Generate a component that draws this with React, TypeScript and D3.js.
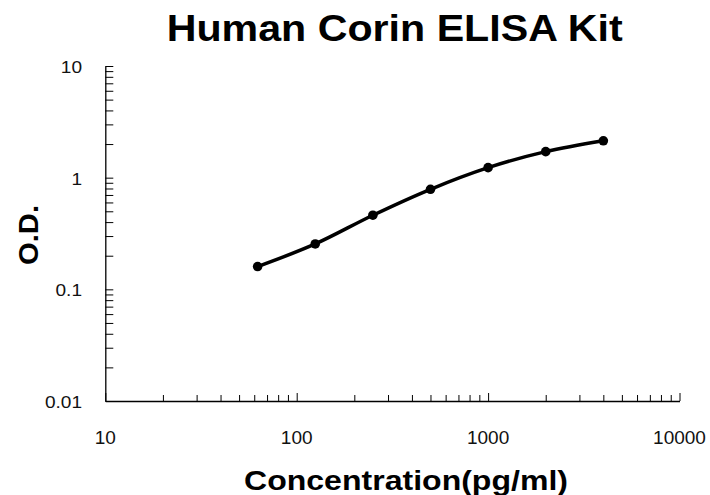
import { useEffect, useRef } from "react";
import * as d3 from "d3";

// standard curve points (pg/ml vs O.D.)
const concentrations = [62.5, 125, 250, 500, 1000, 2000, 4000];
const odValues = [0.16, 0.255, 0.461, 0.787, 1.229, 1.71, 2.14];

const xTickLabels = [10, 100, 1000, 10000];
const yTickLabels = [0.01, 0.1, 1, 10];

const chartTitle = "Human Corin ELISA Kit";
const xTitle = "Concentration(pg/ml)";
const yTitle = "O.D.";

export default function App() {
    const ref = useRef<SVGSVGElement>(null);

    useEffect(() => {
        const svg = d3.select(ref.current);
        svg.selectAll("*").remove();

        const width = 710;
        const height = 495;
        const margin = { top: 66, right: 30.5, bottom: 94, left: 105.3 };
        const font = "'Liberation Sans', Arial, sans-serif";

        const xScale = d3.scaleLog()
            .domain([10, 10000])
            .range([margin.left, width - margin.right]);

        const yScale = d3.scaleLog()
            .domain([0.01, 10])
            .range([height - margin.bottom, margin.top]);

        // minor + major ticks for each decade
        const decadeTicks = (lo: number, hi: number) => {
            const out: number[] = [];
            for (let d = lo; d < hi; d *= 10) {
                for (let k = 1; k < 10; k++) out.push(d * k);
            }
            out.push(hi);
            return out;
        };

        // the original font is a bit wider than Liberation, so stretch text a little
        const stretch = (sel: any, factor: number) => {
            sel.each(function (this: SVGTextElement) {
                const w = this.getComputedTextLength();
                d3.select(this).attr("textLength", w * factor).attr("lengthAdjust", "spacingAndGlyphs");
            });
        };

        // x axis
        const xAxis = svg.append("g")
            .attr("transform", `translate(0,${height - margin.bottom})`)
            .call(d3.axisBottom(xScale).tickValues(decadeTicks(10, 10000)).tickSize(0).tickFormat(() => ""));
        xAxis.select(".domain").attr("stroke", "#000").attr("stroke-width", 1.3);
        xAxis.selectAll(".tick line")
            .attr("y2", (d: any) => (xTickLabels.includes(d) ? -8 : -6))
            .attr("stroke", "#000");

        svg.append("g")
            .selectAll("text")
            .data(xTickLabels)
            .join("text")
            .attr("x", d => xScale(d))
            .attr("y", 444)
            .attr("text-anchor", "middle")
            .style("font-family", font)
            .style("font-size", "19px")
            .attr("fill", "#111")
            .text(d => d);

        // y axis
        const yAxis = svg.append("g")
            .attr("transform", `translate(${margin.left},0)`)
            .call(d3.axisLeft(yScale).tickValues(decadeTicks(0.01, 10)).tickSize(0).tickFormat(() => ""));
        yAxis.select(".domain").attr("stroke", "#000").attr("stroke-width", 1.3);
        yAxis.selectAll(".tick line").attr("x2", 8).attr("stroke", "#000");

        const yLabels = svg.append("g")
            .selectAll("text")
            .data(yTickLabels)
            .join("text")
            .attr("x", 82)
            .attr("y", d => yScale(d) + 7)
            .attr("text-anchor", "end")
            .style("font-family", font)
            .style("font-size", "17px")
            .attr("fill", "#111")
            .text(d => String(d));
        stretch(yLabels, 1.12);

        // titles
        svg.append("text")
            .attr("x", 394.7)
            .attr("y", 41)
            .attr("text-anchor", "middle")
            .attr("textLength", 456)
            .attr("lengthAdjust", "spacingAndGlyphs")
            .style("font-family", font)
            .style("font-size", "36px")
            .style("font-weight", "bold")
            .text(chartTitle);

        svg.append("text")
            .attr("x", 406)
            .attr("y", 490)
            .attr("text-anchor", "middle")
            .attr("textLength", 324)
            .attr("lengthAdjust", "spacingAndGlyphs")
            .style("font-family", font)
            .style("font-size", "27px")
            .style("font-weight", "bold")
            .text(xTitle);

        svg.append("text")
            .attr("transform", "rotate(-90)")
            .attr("x", -235)
            .attr("y", 38)
            .attr("text-anchor", "middle")
            .attr("textLength", 60)
            .attr("lengthAdjust", "spacingAndGlyphs")
            .style("font-family", font)
            .style("font-size", "27px")
            .style("font-weight", "bold")
            .text(yTitle);

        // curve
        const pts = concentrations.map((c, i) => [c, odValues[i]] as [number, number]);
        const line = d3.line<[number, number]>()
            .x(d => xScale(d[0]))
            .y(d => yScale(d[1]))
            .curve(d3.curveMonotoneX);

        svg.append("path")
            .datum(pts)
            .attr("fill", "none")
            .attr("stroke", "#000")
            .attr("stroke-width", 3.5)
            .attr("d", line);

        svg.append("g")
            .selectAll("circle")
            .data(pts)
            .join("circle")
            .attr("cx", d => xScale(d[0]))
            .attr("cy", d => yScale(d[1]))
            .attr("r", 4.8)
            .attr("fill", "#000");
    }, []);

    return (
        <div style={{ position: "absolute", left: 0, top: 0, width: 710, height: 495, background: "#fff" }}>
            <svg ref={ref} width={710} height={495} style={{ display: "block" }}></svg>
        </div>
    );
}
